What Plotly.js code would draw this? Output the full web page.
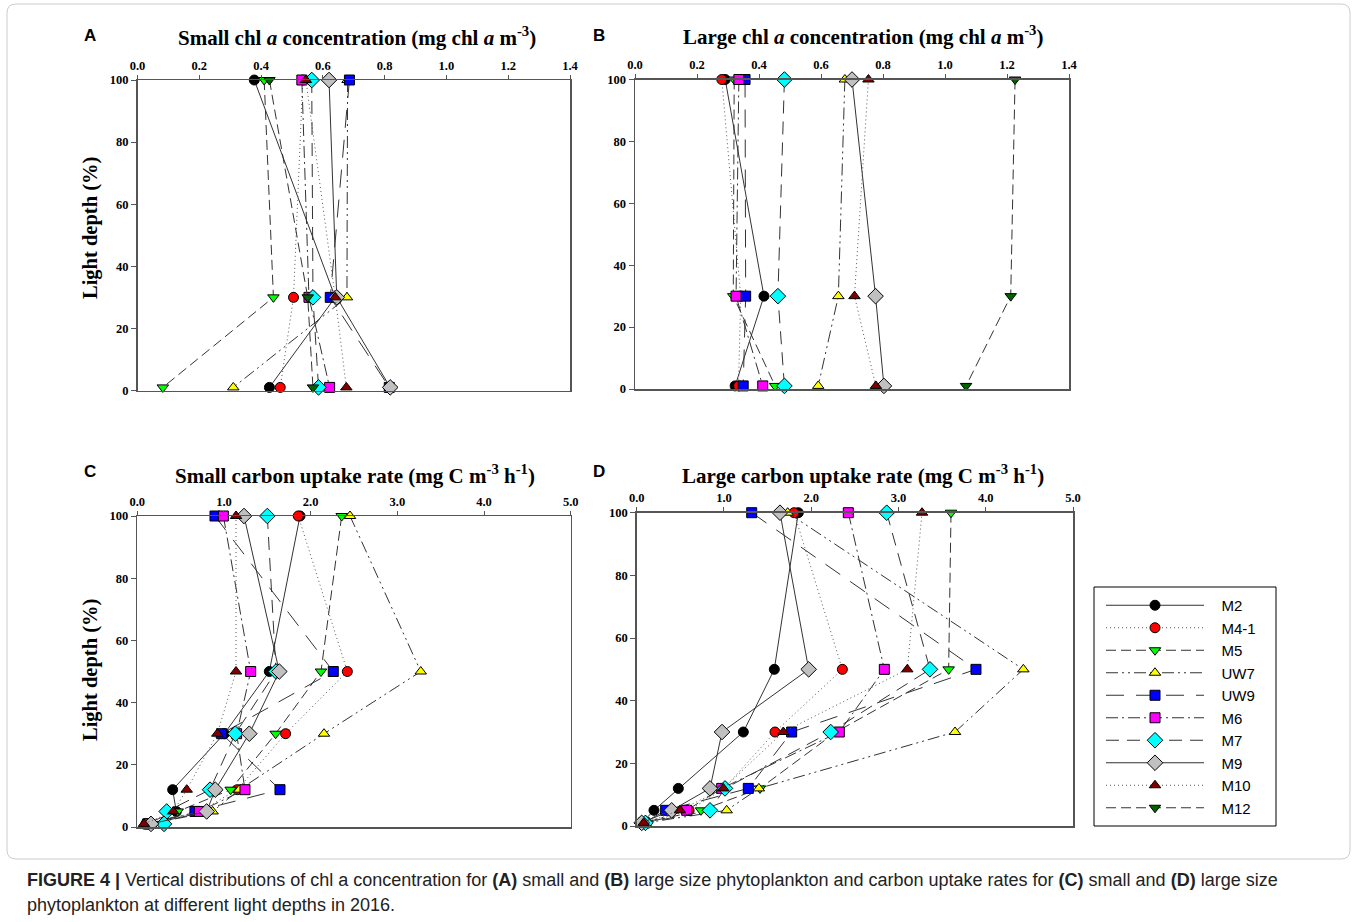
<!DOCTYPE html>
<html>
<head>
<meta charset="utf-8">
<script src="https://cdn.plot.ly/plotly-3.0.1.min.js"></script>
<style>html,body{margin:0;padding:0;background:#fff;}#chart{width:1357px;height:922px;}</style>
</head>
<body>
<div id="chart"></div>
<script>
// ---- data ----
const stations = ['M2','M4-1','M5','UW7','UW9','M6','M7','M9','M10','M12'];
const depthsChl = [100, 30, 1];
const depthsUptake = [100, 50, 30, 12, 5, 1];

// Small chl a (mg chl a m-3) at depths 100, 30, 1
const smallChl_M2   = [0.378, 0.640, 0.427];
const smallChl_M41  = [0.535, 0.505, 0.462];
const smallChl_M5   = [0.410, 0.440, 0.082];
const smallChl_UW7  = [0.680, 0.678, 0.310];
const smallChl_UW9  = [0.686, 0.624, 0.815];
const smallChl_M6   = [0.532, 0.555, 0.622];
const smallChl_M7   = [0.564, 0.568, 0.586];
const smallChl_M9   = [0.620, 0.645, 0.818];
const smallChl_M10  = [0.545, 0.640, 0.676];
const smallChl_M12  = [0.427, 0.551, 0.568];

// Large chl a
const largeChl_M2   = [0.291, 0.416, 0.323];
const largeChl_M41  = [0.280, 0.341, 0.334];
const largeChl_M5   = [0.320, 0.317, 0.452];
const largeChl_UW7  = [0.677, 0.656, 0.591];
const largeChl_UW9  = [0.355, 0.357, 0.349];
const largeChl_M6   = [0.335, 0.326, 0.412];
const largeChl_M7   = [0.482, 0.461, 0.482];
const largeChl_M9   = [0.700, 0.776, 0.803];
const largeChl_M10  = [0.753, 0.708, 0.777];
const largeChl_M12  = [1.226, 1.212, 1.068];

// Small carbon uptake (mg C m-3 h-1) at depths 100, 50, 30, 12, 5, 1
const smallC_M2   = [1.877, 1.523, 1.004, 0.408, 0.450, 0.100];
const smallC_M41  = [1.857, 2.423, 1.711, 1.154, 0.720, 0.120];
const smallC_M5   = [2.358, 2.119, 1.596, 1.077, 0.466, 0.200];
const smallC_UW7  = [2.454, 3.270, 2.154, 1.177, 0.869, 0.150];
const smallC_UW9  = [0.896, 2.261, 0.973, 1.646, 0.665, 0.120];
const smallC_M6   = [0.993, 1.308, 1.146, 1.242, 0.715, 0.130];
const smallC_M7   = [1.500, 1.600, 1.131, 0.839, 0.339, 0.308];
const smallC_M9   = [1.231, 1.638, 1.292, 0.900, 0.800, 0.158];
const smallC_M10  = [1.139, 1.139, 0.923, 0.570, 0.415, 0.077];

// Large carbon uptake
const largeC_M2   = [1.852, 1.577, 1.222, 0.477, 0.198, 0.060];
const largeC_M41  = [1.803, 2.357, 1.585, 1.000, 0.600, 0.115];
const largeC_M5   = [3.602, 3.575, 2.284, 1.413, 0.737, 0.080];
const largeC_UW7  = [1.730, 4.431, 3.648, 1.400, 1.031, 0.100];
const largeC_UW9  = [1.318, 3.888, 1.776, 1.279, 0.332, 0.080];
const largeC_M6   = [2.425, 2.838, 2.322, 0.974, 0.573, 0.090];
const largeC_M7   = [2.865, 3.361, 2.223, 1.012, 0.840, 0.100];
const largeC_M9   = [1.642, 1.971, 0.978, 0.840, 0.401, 0.057];
const largeC_M10  = [3.270, 3.101, 1.680, 0.993, 0.496, 0.080];

const xTicksChl = [0, 0.2, 0.4, 0.6, 0.8, 1.0, 1.2, 1.4];
const xTicksUptake = [0, 1, 2, 3, 4, 5];
const yTicks = [0, 20, 40, 60, 80, 100];

// ---- styles ----
const styles = {
  'M2':   {symbol:'circle',        color:'#000000', dash:'solid'},
  'M4-1': {symbol:'circle',        color:'#ff0000', dash:'1px,3px'},
  'M5':   {symbol:'triangle-down', color:'#00ff00', dash:'10px,5px'},
  'UW7':  {symbol:'triangle-up',   color:'#ffff00', dash:'12px,4px,2px,4px,2px,4px'},
  'UW9':  {symbol:'square',        color:'#0000ff', dash:'18px,12px'},
  'M6':   {symbol:'square',        color:'#ff00ff', dash:'12px,4px,2px,4px'},
  'M7':   {symbol:'diamond',       color:'#00ffff', dash:'13px,8px'},
  'M9':   {symbol:'diamond',       color:'#c0c0c0', dash:'solid'},
  'M10':  {symbol:'triangle-up',   color:'#800000', dash:'1px,3px'},
  'M12':  {symbol:'triangle-down', color:'#006400', dash:'10px,5px'}
};

const panelA = [smallChl_M2, smallChl_M41, smallChl_M5, smallChl_UW7, smallChl_UW9, smallChl_M6, smallChl_M7, smallChl_M9, smallChl_M10, smallChl_M12];
const panelB = [largeChl_M2, largeChl_M41, largeChl_M5, largeChl_UW7, largeChl_UW9, largeChl_M6, largeChl_M7, largeChl_M9, largeChl_M10, largeChl_M12];
const panelC = [smallC_M2, smallC_M41, smallC_M5, smallC_UW7, smallC_UW9, smallC_M6, smallC_M7, smallC_M9, smallC_M10, null];
const panelD = [largeC_M2, largeC_M41, largeC_M5, largeC_UW7, largeC_UW9, largeC_M6, largeC_M7, largeC_M9, largeC_M10, null];

const traces = [];
function addPanel(vals, depths, xa, ya, showLegend) {
  stations.forEach((s, i) => {
    if (!vals[i]) return;
    const st = styles[s];
    traces.push({
      type:'scatter', mode:'lines+markers', name:'\u00a0\u00a0\u00a0' + s,
      x: vals[i], y: depths, xaxis: xa, yaxis: ya,
      showlegend: showLegend, legendgroup: s,
      line:{color: (st.dash==='1px,3px') ? '#555555' : '#333333', width:1, dash: st.dash},
      marker:{symbol: st.symbol, size: (st.symbol==='diamond') ? 12 : 10, color: st.color, line:{color:'#000', width:1}},
      cliponaxis:false
    });
  });
}
addPanel(panelA, depthsChl, 'x', 'y', true);
addPanel(panelB, depthsChl, 'x2', 'y2', false);
addPanel(panelC, depthsUptake, 'x3', 'y3', false);
addPanel(panelD, depthsUptake, 'x4', 'y4', false);

const W = 1357, H = 922;
const px = v => v / W;
const py = v => 1 - v / H;

const tickFont = {family:'Liberation Serif, Times New Roman, serif', size:12.5, color:'#000', weight:'bold'};
function xAxis(dom, anchor, range, ticks) {
  return {domain:[px(dom[0]), px(dom[1])], anchor: anchor, side:'top', range: range,
    tickmode:'array', tickvals: ticks, ticktext: ticks.map(t => t.toFixed(1)),
    ticks:'outside', ticklen:4, tickwidth:1, tickcolor:'#555',
    showline:true, linecolor:'#555', linewidth:1.5, mirror:true,
    showgrid:false, zeroline:false, tickfont: tickFont, fixedrange:true};
}
function yAxis(dom, anchor) {
  return {domain:[py(dom[1]), py(dom[0])], anchor: anchor, range:[0,100],
    tickmode:'array', tickvals: yTicks, ticks:'outside', ticklen:5, tickwidth:1, tickcolor:'#555',
    showline:true, linecolor:'#555', linewidth:1.5, mirror:true,
    showgrid:false, zeroline:false, tickfont: tickFont, fixedrange:true};
}

const titleFont = {family:'Liberation Serif, Times New Roman, serif', size:21, color:'#000', weight:'bold'};
const letterFont = {family:'Liberation Sans, Arial, sans-serif', size:17, color:'#000', weight:'bold'};
const yTitleFont = {family:'Liberation Serif, Times New Roman, serif', size:20.5, color:'#000', weight:'bold'};
const capFont = {family:'Liberation Sans, Arial, sans-serif', size:18, color:'#222'};

function ann(text, x, y, font, extra) {
  return Object.assign({text: text, xref:'paper', yref:'paper', x: px(x), y: py(y), showarrow:false, font: font, xanchor:'center', yanchor:'middle'}, extra || {});
}

const annotations = [
  ann('<b>A</b>', 90, 36, letterFont),
  ann('<b>B</b>', 599, 36, letterFont),
  ann('<b>C</b>', 90, 471, letterFont),
  ann('<b>D</b>', 599, 471, letterFont),
  ann('<b>Small chl <i>a</i> concentration (mg chl <i>a</i> m<sup>-3</sup>)</b>', 357, 37, titleFont),
  ann('<b>Large chl <i>a</i> concentration (mg chl <i>a</i> m<sup>-3</sup>)</b>', 863, 36, titleFont),
  ann('<b>Small carbon uptake rate (mg C m<sup>-3</sup> h<sup>-1</sup>)</b>', 355, 475, titleFont),
  ann('<b>Large carbon uptake rate (mg C m<sup>-3</sup> h<sup>-1</sup>)</b>', 863, 474, titleFont),
  ann('<b>Light depth (%)</b>', 90, 228, yTitleFont, {textangle:-90}),
  ann('<b>Light depth (%)</b>', 90, 670, yTitleFont, {textangle:-90}),
  ann('<b>FIGURE 4 |</b> Vertical distributions of chl a concentration for <b>(A)</b> small and <b>(B)</b> large size phytoplankton and carbon uptake rates for <b>(C)</b> small and <b>(D)</b> large size',
      25, 880, capFont, {xanchor:'left'}),
  ann('phytoplankton at different light depths in 2016.', 25, 905, capFont, {xanchor:'left'})
];

function roundRect(x0, y0, x1, y1, r) {
  return 'M ' + px(x0 + r) + ',' + py(y0) + ' L ' + px(x1 - r) + ',' + py(y0) + ' Q ' + px(x1) + ',' + py(y0) + ' ' + px(x1) + ',' + py(y0 + r) +
    ' L ' + px(x1) + ',' + py(y1 - r) + ' Q ' + px(x1) + ',' + py(y1) + ' ' + px(x1 - r) + ',' + py(y1) +
    ' L ' + px(x0 + r) + ',' + py(y1) + ' Q ' + px(x0) + ',' + py(y1) + ' ' + px(x0) + ',' + py(y1 - r) +
    ' L ' + px(x0) + ',' + py(y0 + r) + ' Q ' + px(x0) + ',' + py(y0) + ' ' + px(x0 + r) + ',' + py(y0) + ' Z';
}

const layout = {
  width: W, height: H,
  margin:{l:0, r:0, t:0, b:0},
  paper_bgcolor:'#fff', plot_bgcolor:'rgba(0,0,0,0)',
  showlegend:true,
  legend:{x: px(1101), y: py(589), xanchor:'left', yanchor:'top',
    borderwidth:0, bgcolor:'rgba(0,0,0,0)',
    font:{family:'Liberation Sans, Arial, sans-serif', size:15, color:'#000'},
    itemwidth:98, tracegroupgap:0, itemclick:false, itemdoubleclick:false},
  xaxis:  xAxis([137.5, 570], 'y', [0, 1.4], xTicksChl),
  yaxis:  yAxis([80, 390.5], 'x'),
  xaxis2: xAxis([635, 1069], 'y2', [0, 1.4], xTicksChl),
  yaxis2: yAxis([79.5, 389], 'x2'),
  xaxis3: xAxis([137.3, 570.7], 'y3', [0, 5], xTicksUptake),
  yaxis3: yAxis([516, 827], 'x3'),
  xaxis4: xAxis([636.7, 1073], 'y4', [0, 5], xTicksUptake),
  yaxis4: yAxis([512.7, 826], 'x4'),
  annotations: annotations,
  shapes:[
    {type:'path', xref:'paper', yref:'paper', layer:'below', path: roundRect(7, 4, 1350, 859, 9),
     line:{color:'#cccccc', width:1}},
    {type:'rect', xref:'paper', yref:'paper', layer:'below',
     x0: px(1094), x1: px(1276), y0: py(826), y1: py(587), line:{color:'#000', width:1}}
  ]
};

Plotly.newPlot('chart', traces, layout, {staticPlot:true, displayModeBar:false});
</script>
</body>
</html>
